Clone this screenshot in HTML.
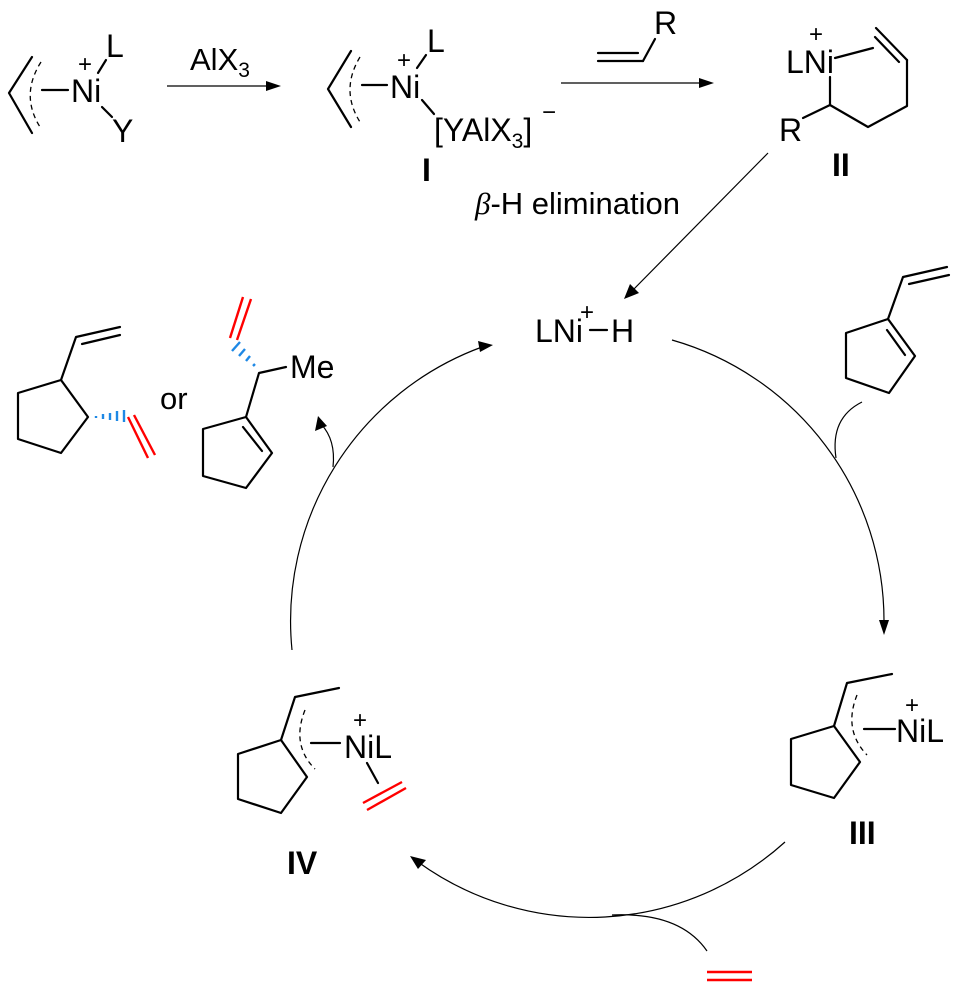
<!DOCTYPE html>
<html><head><meta charset="utf-8"><style>
html,body{margin:0;padding:0;background:#fff;}
svg{display:block;}
text{font-family:"Liberation Sans",Arial,sans-serif;fill:#000;}
.b{stroke:#000;stroke-width:2.2;fill:none;stroke-linecap:round;stroke-linejoin:round;}
.t{stroke:#000;stroke-width:1.2;fill:none;}
.d{stroke:#000;stroke-width:1.3;fill:none;stroke-dasharray:5,4;}
.r{stroke:#f00;stroke-width:2.4;fill:none;}
.bl{stroke:#1e88e5;stroke-width:2.4;fill:none;}
</style></head><body>
<svg width="958" height="990" viewBox="0 0 958 990" xmlns="http://www.w3.org/2000/svg">
<!-- starting complex -->
<polyline class="b" points="32,57 9,93 32,133"/>
<path class="d" d="M41,62 Q20,95 40,127"/>
<line class="b" x1="42" y1="90" x2="68" y2="90"/>
<text x="71" y="102" font-size="32">Ni</text>
<text x="78" y="72" font-size="24">+</text>
<line class="b" x1="98" y1="73" x2="106" y2="60"/>
<text x="106" y="57" font-size="32">L</text>
<line class="b" x1="102" y1="107" x2="112" y2="117"/>
<text x="112" y="142" font-size="32">Y</text>
<line class="t" x1="167" y1="86" x2="270" y2="86"/>
<polygon points="281,86 266,81 266,91"/>
<text x="190" y="70" font-size="31">AlX<tspan font-size="21" dy="7">3</tspan></text>
<!-- I -->
<polyline class="b" points="351,51 328,89 351,127"/>
<path class="d" d="M360,57 Q340,90 360,122"/>
<line class="b" x1="362" y1="85" x2="387" y2="85"/>
<text x="390" y="98" font-size="32">Ni</text>
<text x="397" y="68" font-size="24">+</text>
<line class="b" x1="417" y1="68" x2="426" y2="55"/>
<text x="427" y="52" font-size="32">L</text>
<line class="b" x1="422" y1="100" x2="434" y2="114"/>
<text x="434" y="141" font-size="32">[YAlX<tspan font-size="21" dy="7">3</tspan><tspan dy="-7">]</tspan></text>
<text x="542" y="120" font-size="24">−</text>
<text x="422" y="181" font-size="32" font-weight="bold">I</text>
<!-- arrow 2 -->
<line class="t" x1="561" y1="83" x2="702" y2="83"/>
<polygon points="714,83 699,78 699,88"/>
<line class="b" x1="598" y1="61" x2="643" y2="61"/>
<line class="b" x1="598" y1="53" x2="638" y2="53"/>
<line class="b" x1="643" y1="61" x2="655" y2="39"/>
<text x="654" y="34" font-size="32">R</text>
<!-- II -->
<text x="809" y="42" font-size="24">+</text>
<text x="786" y="73" font-size="32">LNi</text>
<line class="b" x1="835" y1="58" x2="873" y2="48"/>
<line class="b" x1="876" y1="28" x2="907" y2="60"/>
<line class="b" x1="875" y1="37" x2="899" y2="62"/>
<polyline class="b" points="907,60 907,106 868,127 830,105 830,77"/>
<line class="b" x1="830" y1="105" x2="803" y2="118"/>
<text x="779" y="141" font-size="32">R</text>
<text x="832" y="176" font-size="32" font-weight="bold">II</text>
<!-- beta-H -->
<text x="475" y="214" font-size="31"><tspan font-family="Liberation Serif" font-style="italic">β</tspan>-H elimination</text>
<line class="t" x1="768" y1="153" x2="632" y2="291"/>
<polygon points="624,299 630,284 639,293"/>
<!-- LNi-H -->
<text x="535" y="342" font-size="32">LNi</text>
<text x="580" y="320" font-size="24">+</text>
<line class="b" x1="590" y1="330" x2="607" y2="330"/>
<text x="611" y="342" font-size="32">H</text>
<!-- cycle arcs -->
<path class="t" d="M672,340 A292,292 0 0 1 884,622"/>
<polygon points="884,635 879,620 889,620"/>
<path class="t" d="M785,842 A292,292 0 0 1 418,862"/>
<polygon points="410,856 426,860 418,869"/>
<path class="t" d="M292,650 A292,292 0 0 1 482,347"/>
<polygon points="493,345 478,341 480,352"/>
<path class="t" d="M862,402 Q830,418 836,458"/>
<path class="t" d="M707,951 Q680,912 612,915"/>
<path class="t" d="M333,467 Q336,440 321,424"/>
<polygon points="318,416 315,431 327,426"/>
<!-- right vinylcyclopentene -->
<polygon class="b" points="888,319 915,356 889,393 846,378 846,333"/>
<line class="b" x1="887" y1="330" x2="905" y2="355"/>
<polyline class="b" points="888,319 903,277 947,267"/>
<line class="b" x1="909" y1="284" x2="949" y2="275"/>
<!-- III -->
<polygon class="b" points="834,726 860,762 834,798 791,785 791,739"/>
<polyline class="b" points="834,726 847,683 892,674"/>
<path class="d" d="M857,695 Q843,730 867,755"/>
<line class="b" x1="864" y1="729" x2="895" y2="729"/>
<text x="896" y="742" font-size="32">NiL</text>
<text x="905" y="713" font-size="24">+</text>
<text x="849" y="844" font-size="32" font-weight="bold">III</text>
<!-- IV -->
<polygon class="b" points="281,740 307,777 281,813 238,799 238,754"/>
<polyline class="b" points="281,740 295,697 339,688"/>
<path class="d" d="M305,710 Q291,745 315,769"/>
<line class="b" x1="311" y1="743" x2="340" y2="743"/>
<text x="344" y="758" font-size="32">NiL</text>
<text x="353" y="728" font-size="24">+</text>
<line class="b" x1="367" y1="763" x2="378" y2="783"/>
<line class="r" x1="363" y1="803" x2="402" y2="782"/>
<line class="r" x1="367" y1="810" x2="406" y2="788"/>
<text x="287" y="874" font-size="32" font-weight="bold">IV</text>
<!-- bottom ethylene -->
<line class="r" x1="707" y1="972" x2="752" y2="972"/>
<line class="r" x1="707" y1="980" x2="752" y2="980"/>
<!-- product 1 -->
<polygon class="b" points="61,380 88,417 61,453 18,439 18,393"/>
<polyline class="b" points="61,380 76,337 120,327"/>
<line class="b" x1="82" y1="344" x2="120" y2="335"/>
<g class="bl"><line x1="96" y1="416" x2="96" y2="418"/><line x1="103" y1="414" x2="103" y2="419"/><line x1="110" y1="413" x2="110" y2="420"/><line x1="117" y1="411" x2="117" y2="421"/><line x1="124" y1="410" x2="124" y2="422"/></g>
<line class="r" x1="128" y1="417" x2="148" y2="458"/>
<line class="r" x1="134" y1="415" x2="155" y2="455"/>
<text x="160" y="409" font-size="31">or</text>
<!-- product 2 -->
<polygon class="b" points="246,417 272,453 246,488 203,476 203,429"/>
<line class="b" x1="243" y1="427" x2="262" y2="451"/>
<polyline class="b" points="246,417 259,373 286,367"/>
<text x="290" y="378" font-size="32">Me</text>
<g class="bl"><line x1="253" y1="366" x2="255" y2="364"/><line x1="246" y1="361" x2="250" y2="356"/><line x1="239" y1="356" x2="245" y2="349"/><line x1="232" y1="351" x2="240" y2="342"/></g>
<line class="r" x1="230" y1="338" x2="243" y2="297"/>
<line class="r" x1="237" y1="340" x2="251" y2="299"/>
</svg>
</body></html>
